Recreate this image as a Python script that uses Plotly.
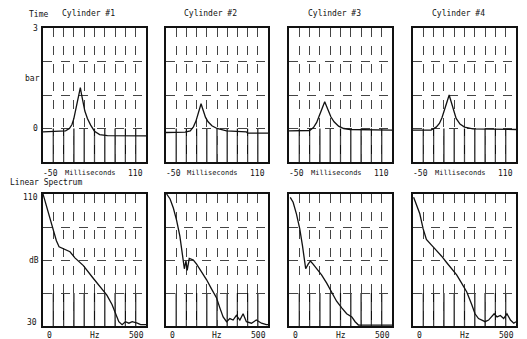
import plotly.graph_objects as go

# ---------------- data ----------------
cylinders = ["Cylinder #1", "Cylinder #2", "Cylinder #3", "Cylinder #4"]

time_c1 = [-50, -25, -15, -9, -5, -2, 1, 4, 6, 8, 10, 12, 15, 19, 24, 30, 38, 50, 80, 110]
bar_c1 = [-0.1, -0.09, -0.07, 0.0, 0.12, 0.3, 0.55, 0.82, 1.02, 1.22, 1.0, 0.8, 0.52, 0.3, 0.1, -0.08, -0.18, -0.21, -0.21, -0.22]

time_c2 = [-50, -20, -12, -7, -3, 0, 3, 5, 7, 9, 12, 16, 22, 30, 45, 76, 78, 110]
bar_c2 = [-0.12, -0.11, -0.07, 0.05, 0.22, 0.42, 0.62, 0.74, 0.62, 0.47, 0.33, 0.2, 0.08, 0.0, -0.07, -0.1, -0.14, -0.14]

time_c3 = [-50, -18, -12, -7, -3, 0, 3, 5.5, 8, 11, 15, 20, 27, 35, 45, 110]
bar_c3 = [-0.07, -0.06, 0.03, 0.18, 0.38, 0.55, 0.7, 0.8, 0.68, 0.52, 0.35, 0.2, 0.07, 0.0, -0.03, -0.05]

time_c4 = [-50, -22, -14, -9, -5, -2, 1, 4, 6.2, 8, 10, 13, 17, 23, 30, 43, 110]
bar_c4 = [-0.05, -0.05, 0.04, 0.15, 0.32, 0.5, 0.72, 0.9, 1.0, 0.88, 0.74, 0.5, 0.3, 0.13, 0.04, -0.01, -0.03]

hz_c1 = [0, 24, 49, 65, 78, 98, 131, 155, 196, 237, 278, 310, 335, 351, 368, 384, 400, 417, 433, 458, 474, 500]
db_c1 = [110, 99.6, 90.2, 81.7, 78, 77, 75, 71.3, 66.6, 60, 53.4, 48.7, 43, 37.4, 32.6, 30.8, 32.6, 31.7, 32.6, 31.7, 30.8, 30.8]

hz_c2 = [3, 20, 36, 52, 68, 81, 90, 98, 104, 114, 134, 150, 174, 199, 223, 248, 264, 280, 297, 313, 329, 345, 362, 378, 394, 419, 443, 468, 492, 500]
db_c2 = [110, 107, 101.5, 94, 84.5, 73, 64.7, 69.4, 63.7, 71, 70, 67.5, 63, 58, 52.5, 47, 41, 35.5, 32.6, 34.5, 33.6, 36.4, 33.6, 37.4, 32.6, 31.7, 33.6, 31.7, 30.8, 30.8]

hz_c3 = [6, 20, 36, 52, 65, 73, 81, 93, 104, 117, 134, 158, 183, 207, 231, 256, 280, 305, 321, 337, 400, 500]
db_c3 = [108, 105, 98, 89, 79, 71.3, 64.7, 67.5, 69.4, 67.5, 64.7, 61, 56, 50.6, 45, 41, 37.4, 35.5, 32.6, 30.6, 30.5, 30.5]

hz_c4 = [3, 16, 33, 49, 65, 90, 114, 139, 163, 187, 212, 236, 261, 285, 301, 318, 334, 350, 367, 383, 394, 408, 424, 440, 456, 473, 489, 500]
db_c4 = [108, 104, 98, 89, 82.5, 79, 76, 72.3, 68.5, 64.7, 61, 56, 50.6, 43, 37.4, 34.5, 33.6, 32.6, 33.6, 35.5, 37.4, 35.5, 36.4, 34.5, 37.4, 33.6, 31.7, 32.6]

time_range = [-50, 110]
bar_range = [-1, 3]
hz_range = [0, 500]
db_range = [30, 110]

time_series = [(time_c1, bar_c1), (time_c2, bar_c2), (time_c3, bar_c3), (time_c4, bar_c4)]
spec_series = [(hz_c1, db_c1), (hz_c2, db_c2), (hz_c3, db_c3), (hz_c4, db_c4)]

# ---------------- layout geometry ----------------
W, H = 527, 339
col_px = [(43, 146), (166, 268), (289, 392), (413, 516)]
top_px = (28, 162)
bot_px = (194, 326)

FONT = "DejaVu Sans Mono"
INK = "#111111"

fig = go.Figure()
layout = dict(
    width=W, height=H, margin=dict(l=0, r=0, t=0, b=0),
    paper_bgcolor="white", plot_bgcolor="white", showlegend=False,
    font=dict(family=FONT, size=8, color=INK),
)
annotations = []
shapes = []


def ydom(p):
    return [1 - p[1] / H, 1 - p[0] / H]


def add_ann(text, x, y, xref, yref, xanchor="center", yanchor="middle", size=8):
    annotations.append(dict(text=text, x=x, y=y, xref=xref, yref=yref, xanchor=xanchor,
                            yanchor=yanchor, showarrow=False,
                            font=dict(family=FONT, size=size, color=INK)))


idx = 0
for row in range(2):
    for col in range(4):
        idx += 1
        xa = "xaxis" if idx == 1 else f"xaxis{idx}"
        ya = "yaxis" if idx == 1 else f"yaxis{idx}"
        xr = "x" if idx == 1 else f"x{idx}"
        yr = "y" if idx == 1 else f"y{idx}"
        if row == 0:
            xs, ys = time_series[col]
            xrng, yrng = time_range, bar_range
            xd = (xrng[1] - xrng[0]) / 10
            yd = 1
        else:
            xs, ys = spec_series[col]
            xrng, yrng = hz_range, db_range
            xd = (xrng[1] - xrng[0]) / 10
            yd = (yrng[1] - yrng[0]) / 4
        fig.add_trace(go.Scatter(x=xs, y=ys, mode="lines", xaxis=xr, yaxis=yr,
                                 line=dict(color=INK, width=1.3), hoverinfo="skip"))
        layout[xa] = dict(domain=[col_px[col][0] / W, col_px[col][1] / W], range=xrng,
                          anchor=yr, showline=True, mirror=True, linecolor=INK, linewidth=2,
                          showgrid=True, gridcolor="#444444", griddash="dash", gridwidth=1,
                          tick0=xrng[0], dtick=xd, showticklabels=False, ticks="",
                          zeroline=False, fixedrange=True)
        layout[ya] = dict(domain=ydom(top_px if row == 0 else bot_px), range=yrng,
                          anchor=xr, showline=True, mirror=True, linecolor=INK, linewidth=2,
                          showgrid=True, gridcolor="#444444", griddash="dash", gridwidth=1,
                          tick0=yrng[0], dtick=yd, showticklabels=False, ticks="",
                          zeroline=False, fixedrange=True)
        # solid grid segments in lowest quarter (as in the plotter output)
        q = yrng[0] + (yrng[1] - yrng[0]) / 4
        for k in range(1, 10):
            gx = xrng[0] + k * xd
            shapes.append(dict(type="line", xref=xr, yref=yr, x0=gx, x1=gx, y0=yrng[0], y1=q,
                               line=dict(color=INK, width=1.2), layer="below"))
        xdom = f"{xr} domain"
        ydm = f"{yr} domain"
        if row == 0:
            add_ann("-50", -0.02, -0.04, xdom, ydm, "left", "top")
            add_ann("Milliseconds", 0.46, -0.04, xdom, ydm, "center", "top", size=7)
            add_ann("110", 0.99, -0.04, xdom, ydm, "right", "top")
            add_ann(cylinders[col], 0.44, 1.11, xdom, ydm, "center", "middle")
        else:
            add_ann("0", 0.02, -0.02, xdom, ydm, "left", "top")
            add_ann("Hz", 0.5, -0.02, xdom, ydm, "center", "top")
            add_ann("500", 1.0, -0.02, xdom, ydm, "right", "top")
        if col == 0:
            if row == 0:
                add_ann("3", -0.03, bar_range[1], xdom, yr, "right", "middle")
                add_ann("bar", -0.01, 1.5, xdom, yr, "right", "middle")
                add_ann("0", -0.03, 0, xdom, yr, "right", "middle")
            else:
                add_ann("110", -0.03, db_range[1] - 2, xdom, yr, "right", "middle")
                add_ann("dB", -0.02, 70, xdom, yr, "right", "middle")
                add_ann("30", -0.04, db_range[0] + 2, xdom, yr, "right", "middle")

add_ann("Time", 27 / W, 1 - 14 / H, "paper", "paper", "left", "middle")
add_ann("Linear Spectrum", 8 / W, 1 - 183 / H, "paper", "paper", "left", "middle")

layout["annotations"] = annotations
layout["shapes"] = shapes
fig.update_layout(**layout)
fig.write_html("out.html")
